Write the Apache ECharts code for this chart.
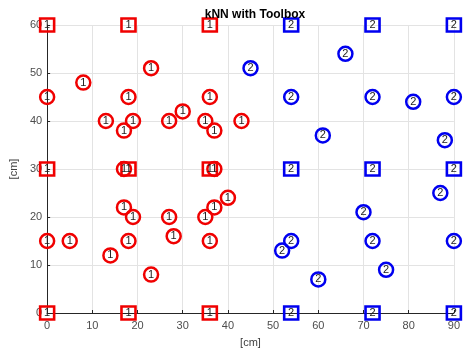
<!DOCTYPE html>
<html>
<head>
<meta charset="utf-8">
<script src="https://cdn.jsdelivr.net/npm/echarts@6/dist/echarts.min.js"></script>
<style>html,body{margin:0;padding:0;background:#fff}#c{width:463px;height:353px}</style>
</head>
<body>
<div id="c"></div>
<script>
const xTicks = [0,10,20,30,40,50,60,70,80,90];
const yTicks = [0,10,20,30,40,50,60];
const redCircles = [[0,45],[8,48],[18,45],[23,51],[13,40],[19,40],[17,38],[27,40],[30,42],[35,40],[36,45],[37,38],[43,40],[17,30],[37,30],[17,22],[19,20],[0,15],[5,15],[18,15],[14,12],[23,8],[27,20],[28,16],[35,20],[37,22],[40,24],[36,15]];
const blueCircles = [[45,51],[66,54],[54,45],[72,45],[81,44],[90,45],[61,37],[88,36],[87,25],[70,21],[54,15],[52,13],[72,15],[90,15],[75,9],[60,7]];
const redSquares = [[0,0],[18,0],[36,0],[0,30],[18,30],[36,30],[0,60],[18,60],[36,60]];
const blueSquares = [[54,0],[72,0],[90,0],[54,30],[72,30],[90,30],[54,60],[72,60],[90,60]];
const FONT = 'Liberation Sans, Arial, sans-serif';

function mk(name, data, symbol, size, color, txt) {
  return {
    name: name, type: 'scatter', data: data, symbol: symbol, symbolSize: size,
    itemStyle: { color: 'rgba(255,255,255,0)', borderColor: color, borderWidth: 2.5, opacity: 1 },
    label: { show: true, position: 'inside', formatter: txt, color: '#222', fontSize: 11, fontFamily: FONT },
    emphasis: { disabled: true }, silent: true
  };
}

const chart = echarts.init(document.getElementById('c'), null, { renderer: 'canvas' });
chart.setOption({
  animation: false,
  title: { text: 'kNN with Toolbox', left: 250, textAlign: 'center', top: 4,
    textStyle: { fontSize: 12, fontWeight: 'bold', color: '#000', fontFamily: FONT } },
  grid: { left: 45, right: 8, top: 25, bottom: 40, containLabel: false },
  xAxis: {
    type: 'value', min: 0, max: 90, interval: 10,
    name: '[cm]', nameLocation: 'middle', nameGap: 24,
    nameTextStyle: { fontSize: 11, color: '#404040', fontFamily: FONT },
    axisLine: { show: true, onZero: false, lineStyle: { color: '#262626', width: 1 } },
    axisTick: { show: true, inside: true, length: 3, lineStyle: { color: '#262626' } },
    axisLabel: { fontSize: 11, color: '#4d4d4d', fontFamily: FONT, margin: 7, formatter: v => xTicks.includes(v) ? String(v) : '' },
    splitLine: { show: true, lineStyle: { color: '#e3e3e3', width: 1 } }
  },
  yAxis: {
    type: 'value', min: 0, max: 60, interval: 10,
    name: '[cm]', nameLocation: 'middle', nameGap: 27,
    nameTextStyle: { fontSize: 11, color: '#404040', fontFamily: FONT },
    axisLine: { show: true, onZero: false, lineStyle: { color: '#262626', width: 1 } },
    axisTick: { show: true, inside: true, length: 3, lineStyle: { color: '#262626' } },
    axisLabel: { fontSize: 11, color: '#4d4d4d', fontFamily: FONT, margin: 5, formatter: v => yTicks.includes(v) ? String(v) : '' },
    splitLine: { show: true, lineStyle: { color: '#e3e3e3', width: 1 } }
  },
  series: [
    mk('redC', redCircles, 'circle', 14, '#f00000', '1'),
    mk('blueC', blueCircles, 'circle', 14, '#0000f0', '2'),
    mk('redS', redSquares, 'rect', [14, 13], '#f00000', '1'),
    mk('blueS', blueSquares, 'rect', [14, 13], '#0000f0', '2')
  ]
});
</script>
</body>
</html>
